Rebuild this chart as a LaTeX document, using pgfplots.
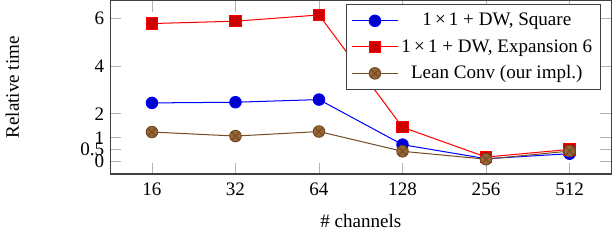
\documentclass[border=0pt]{standalone}
\usepackage{fontspec}
\setmainfont{Liberation Serif}
\usepackage{pgfplots}
\pgfplotsset{compat=1.18}
\begin{document}
\begin{tikzpicture}[font=\fontsize{11.3}{13}\selectfont]
\begin{axis}[
  scale only axis,
  width=297pt, height=102.7pt,
  xmin=-0.5, xmax=5.5,
  ymin=-0.52, ymax=6.75,
  xtick={0,1,2,3,4,5},
  xticklabels={16,32,64,128,256,512},
  ytick={0,0.5,1,2,4,6},
  yticklabels={0,0.5,1,2,4,6},
  /pgf/number format/assume math mode=true,
  ticklabel style={font=\fontsize{11.3}{13}\selectfont},
  axis line style={black!75, line width=0.8pt},
  tick style={black!30, line width=0.5pt},
  major tick length=6.5pt,
  xticklabel style={yshift=-1.5pt},
  xlabel={\# channels},
  ylabel={Relative time},
  label style={font=\fontsize{11.3}{13}\selectfont},
  xlabel style={at={(axis description cs:0.5,-0.2)}, anchor=north},
  ylabel style={at={(axis description cs:-0.17,0.5)}, anchor=south},
  legend cell align=center,
  legend style={at={(axis description cs:0.98,0.98)}, anchor=north east, draw=black!75, line width=0.8pt, row sep=2.5pt, inner ysep=3pt, font=\fontsize{11.3}{13}\selectfont},
  legend image code/.code={\draw[mark repeat=2,mark phase=2] plot coordinates {(0cm,0cm) (0.47cm,0cm) (0.94cm,0cm)};},
  mark size=3.4pt,
  every axis plot/.append style={line width=0.6pt},
]
\addplot+[blue, mark=*, mark options={fill=blue!80!black, solid}] coordinates {
  (0,2.46) (1,2.49) (2,2.60) (3,0.71) (4,0.12) (5,0.33)};
\addlegendentry{1\,×\,1 + DW, Square}
\addplot+[red, mark=square*, mark options={fill=red!80!black, solid}] coordinates {
  (0,5.79) (1,5.89) (2,6.15) (3,1.44) (4,0.19) (5,0.51)};
\addlegendentry{1\,×\,1 + DW, Expansion 6}
\addplot+[brown!60!black, mark=otimes*, mark options={fill=brown!80!black, solid}] coordinates {
  (0,1.24) (1,1.07) (2,1.26) (3,0.43) (4,0.10) (5,0.44)};
\addlegendentry{Lean Conv (our impl.)}
\end{axis}
\path (current axis.south west) ++(0pt,-39pt) coordinate (bb);
\end{tikzpicture}
\end{document}
